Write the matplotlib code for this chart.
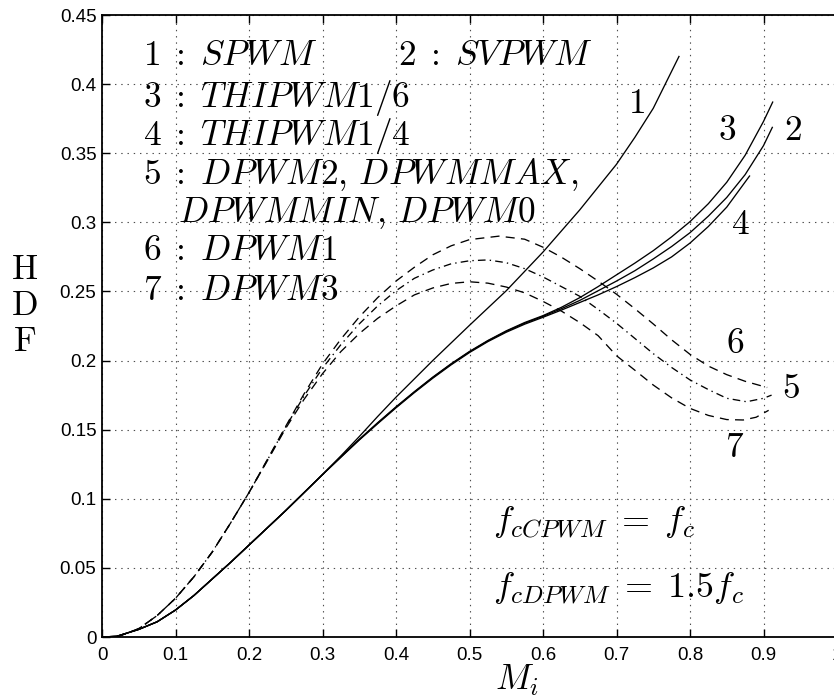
import matplotlib
matplotlib.use("Agg")
import matplotlib.pyplot as plt
from matplotlib.ticker import FuncFormatter

plt.rcParams['mathtext.fontset'] = 'cm'
plt.rcParams['lines.scale_dashes'] = False

# ---- data: harmonic distortion factor (HDF) vs modulation index M_i ----
# 1: SPWM
mi_1 = [0.0, 0.02, 0.05, 0.075, 0.1, 0.125, 0.15, 0.175, 0.2, 0.225, 0.25,
        0.275, 0.3, 0.325, 0.35, 0.375, 0.4, 0.45, 0.5, 0.55, 0.6, 0.65,
        0.7, 0.725, 0.75, 0.785]
hdf_1 = [0.0, 0.0005, 0.0055, 0.011, 0.0195, 0.030, 0.042, 0.054, 0.0665,
         0.079, 0.0915, 0.1045, 0.1175, 0.131, 0.145, 0.1595, 0.1735, 0.200,
         0.2255, 0.2505, 0.2785, 0.309, 0.342, 0.3615, 0.3825, 0.420]

# 3: THIPWM1/6
mi_3 = [0.0, 0.02, 0.05, 0.075, 0.1, 0.125, 0.15, 0.175, 0.2, 0.225, 0.25,
        0.275, 0.3, 0.325, 0.35, 0.375, 0.4, 0.425, 0.45, 0.475, 0.5, 0.525,
        0.55, 0.575, 0.6, 0.625, 0.65, 0.675, 0.7, 0.725, 0.75, 0.775, 0.8,
        0.825, 0.85, 0.875, 0.9, 0.9125]
hdf_3 = [0.0, 0.0005, 0.0055, 0.011, 0.0195, 0.030, 0.042, 0.054, 0.0665,
         0.079, 0.0915, 0.1045, 0.1175, 0.1305, 0.143, 0.155, 0.1665, 0.1775,
         0.188, 0.1977, 0.2066, 0.2145, 0.2215, 0.2275, 0.2325, 0.2385,
         0.2455, 0.2535, 0.262, 0.2705, 0.2795, 0.2895, 0.3005, 0.3135,
         0.329, 0.3485, 0.373, 0.387]

# 2: SVPWM
mi_2 = [0.0, 0.02, 0.05, 0.075, 0.1, 0.125, 0.15, 0.175, 0.2, 0.225, 0.25,
        0.275, 0.3, 0.325, 0.35, 0.375, 0.4, 0.425, 0.45, 0.475, 0.5, 0.525,
        0.55, 0.575, 0.6, 0.625, 0.65, 0.675, 0.7, 0.725, 0.75, 0.775, 0.8,
        0.825, 0.85, 0.875, 0.9, 0.912]
hdf_2 = [0.0, 0.0005, 0.0055, 0.011, 0.0195, 0.030, 0.042, 0.054, 0.0665,
         0.079, 0.0915, 0.1045, 0.1175, 0.1303, 0.1428, 0.1547, 0.1662,
         0.1772, 0.1877, 0.1974, 0.2063, 0.2142, 0.2211, 0.227, 0.232,
         0.2375, 0.2435, 0.2505, 0.2575, 0.265, 0.2735, 0.2825, 0.2925,
         0.3045, 0.318, 0.3345, 0.3555, 0.3687]

# 4: THIPWM1/4
mi_4 = [0.0, 0.02, 0.05, 0.075, 0.1, 0.125, 0.15, 0.175, 0.2, 0.225, 0.25,
        0.275, 0.3, 0.325, 0.35, 0.375, 0.4, 0.425, 0.45, 0.475, 0.5, 0.525,
        0.55, 0.575, 0.6, 0.625, 0.65, 0.675, 0.7, 0.725, 0.75, 0.775, 0.8,
        0.825, 0.85, 0.881]
hdf_4 = [0.0, 0.0005, 0.0055, 0.011, 0.0195, 0.030, 0.042, 0.054, 0.0665,
         0.079, 0.0915, 0.1045, 0.1175, 0.130, 0.1425, 0.1543, 0.1658,
         0.1768, 0.1872, 0.1969, 0.2058, 0.2137, 0.2205, 0.2263, 0.2313,
         0.2365, 0.242, 0.2475, 0.2535, 0.260, 0.267, 0.275, 0.285, 0.297,
         0.311, 0.3335]

# 6: DPWM1
mi_6 = [0.0, 0.02, 0.05, 0.075, 0.1, 0.125, 0.15, 0.175, 0.2, 0.225, 0.25,
        0.275, 0.3, 0.325, 0.35, 0.375, 0.4, 0.425, 0.45, 0.475, 0.5, 0.54,
        0.575, 0.6, 0.625, 0.65, 0.675, 0.7, 0.725, 0.75, 0.775, 0.8, 0.825,
        0.85, 0.875, 0.905]
hdf_6 = [0.0, 0.0, 0.006, 0.0155, 0.028, 0.0435, 0.0615, 0.0825, 0.1045,
         0.1285, 0.1525, 0.176, 0.1975, 0.2155, 0.2315, 0.2455, 0.2575,
         0.2675, 0.2765, 0.283, 0.2875, 0.290, 0.2878, 0.282, 0.2748, 0.2665,
         0.2575, 0.248, 0.2375, 0.2265, 0.215, 0.2045, 0.196, 0.1898, 0.185,
         0.1805]

# 5: DPWM2, DPWMMAX, DPWMMIN, DPWM0
mi_5 = [0.0, 0.02, 0.05, 0.075, 0.1, 0.125, 0.15, 0.175, 0.2, 0.225, 0.25,
        0.275, 0.3, 0.325, 0.35, 0.375, 0.4, 0.425, 0.45, 0.475, 0.5, 0.525,
        0.55, 0.575, 0.6, 0.625, 0.65, 0.675, 0.7, 0.725, 0.75, 0.775, 0.8,
        0.825, 0.85, 0.877, 0.9, 0.911]
hdf_5 = [0.0, 0.0, 0.006, 0.0155, 0.028, 0.0435, 0.0615, 0.0825, 0.1045,
         0.128, 0.152, 0.1745, 0.1945, 0.2115, 0.2265, 0.2395, 0.2505,
         0.2595, 0.2655, 0.270, 0.2722, 0.2728, 0.2708, 0.2665, 0.2605,
         0.2535, 0.2465, 0.237, 0.227, 0.216, 0.205, 0.195, 0.186, 0.179,
         0.1727, 0.1702, 0.1727, 0.175]

# 7: DPWM3
mi_7 = [0.0, 0.02, 0.05, 0.075, 0.1, 0.125, 0.15, 0.175, 0.2, 0.225, 0.25,
        0.275, 0.3, 0.325, 0.35, 0.375, 0.4, 0.425, 0.45, 0.475, 0.5, 0.525,
        0.55, 0.575, 0.6, 0.625, 0.65, 0.675, 0.7, 0.725, 0.75, 0.775, 0.8,
        0.825, 0.85, 0.8725, 0.89, 0.907]
hdf_7 = [0.0, 0.0, 0.006, 0.0155, 0.028, 0.0435, 0.0615, 0.0825, 0.1045,
         0.1275, 0.151, 0.172, 0.1905, 0.2065, 0.2195, 0.2305, 0.2395,
         0.2475, 0.2525, 0.2558, 0.257, 0.256, 0.2532, 0.249, 0.2428, 0.2358,
         0.2275, 0.218, 0.2035, 0.193, 0.1823, 0.173, 0.1654, 0.1603, 0.1573,
         0.157, 0.159, 0.164]

legend_lines = [r'$1\;:\;SPWM$', r'$3\;:\;THIPWM1/6$', r'$4\;:\;THIPWM1/4$',
                r'$5\;:\;DPWM2,\,DPWMMAX,$', r'$DPWMMIN,\,DPWM0$',
                r'$6\;:\;DPWM1$', r'$7\;:\;DPWM3$']
legend_extra = r'$2\;:\;SVPWM$'

x_ticks = [0, 0.1, 0.2, 0.3, 0.4, 0.5, 0.6, 0.7, 0.8, 0.9, 1.0, 1.1]
y_ticks = [0, 0.05, 0.1, 0.15, 0.2, 0.25, 0.3, 0.35, 0.4, 0.45]

# ---- figure ----
W, H = 834, 697
fig = plt.figure(figsize=(W / 100, H / 100), dpi=100)
ax_left, ax_bottom, ax_top = 102, 637, 15
unit_px = 735  # pixels per unit of M_i
ax = fig.add_axes([ax_left / W, (H - ax_bottom) / H,
                   1.1 * unit_px / W, (ax_bottom - ax_top) / H])
ax.set_xlim(0, 1.1)
ax.set_ylim(0, 0.45)

lw = 0.95
dashed = (0, (6.5, 4.5))
dashdot = (0, (5.5, 3.0, 1.0, 3.0))
ax.plot(mi_1, hdf_1, color='black', lw=lw)
ax.plot(mi_3, hdf_3, color='black', lw=lw)
ax.plot(mi_2, hdf_2, color='black', lw=lw)
ax.plot(mi_4, hdf_4, color='black', lw=lw)
ax.plot(mi_6, hdf_6, color='black', lw=lw, linestyle=dashed)
ax.plot(mi_5, hdf_5, color='black', lw=lw, linestyle=dashdot)
ax.plot(mi_7, hdf_7, color='black', lw=lw, linestyle=dashed)

# grid and axes styling
ax.grid(True, color='0.3', lw=0.8, linestyle=(0, (1, 3.5)))
ax.set_axisbelow(True)
for s in ax.spines.values():
    s.set_linewidth(1.3)
ax.set_xticks(x_ticks)
ax.set_yticks(y_ticks)
fmt = FuncFormatter(lambda v, p: '%g' % round(v, 3))
ax.xaxis.set_major_formatter(fmt)
ax.yaxis.set_major_formatter(fmt)
ax.tick_params(direction='in', length=6, width=1.0, top=True, right=True,
               labelsize=13.5)
ax.tick_params(axis='x', pad=7)
ax.tick_params(axis='y', pad=4)
for lab in ax.get_xticklabels() + ax.get_yticklabels():
    lab.set_fontfamily('Liberation Sans')

# legend block
fs = 25.5
legend_y = [0.4138, 0.3834, 0.356, 0.3277, 0.3002, 0.2727, 0.2438]
legend_x = [0.056, 0.056, 0.056, 0.056, 0.1034, 0.056, 0.056]
for txt, lx, ly in zip(legend_lines, legend_x, legend_y):
    ax.text(lx, ly, txt, fontsize=fs, ha='left', va='baseline')
ax.text(0.403, legend_y[0], legend_extra, fontsize=fs, ha='left',
        va='baseline')

# curve numbers
curve_tags = [('1', 0.727, 0.386), ('3', 0.850, 0.367), ('2', 0.940, 0.367),
              ('4', 0.868, 0.299), ('6', 0.861, 0.2125), ('5', 0.938, 0.180),
              ('7', 0.861, 0.1377)]
for t, tx, ty in curve_tags:
    ax.text(tx, ty, '$%s$' % t, fontsize=fs, ha='center', va='center')

# switching frequency notes
ax.text(0.532, 0.0767, r'$f_{cCPWM}\;=\;f_c$', fontsize=26, ha='left',
        va='baseline')
ax.text(0.532, 0.0289, r'$f_{cDPWM}\;=\;1.5f_c$', fontsize=26, ha='left',
        va='baseline')

# axis labels
fig.text(25 / W, 1 - 306 / H, 'H\nD\nF', fontsize=25, family='cmr10',
         ha='center', va='center', linespacing=1.17, multialignment='center')
fig.text(495 / W, 1 - 690 / H, r'$M_i$', fontsize=fs, ha='left',
         va='baseline')

fig.savefig('out.png', dpi=100)
